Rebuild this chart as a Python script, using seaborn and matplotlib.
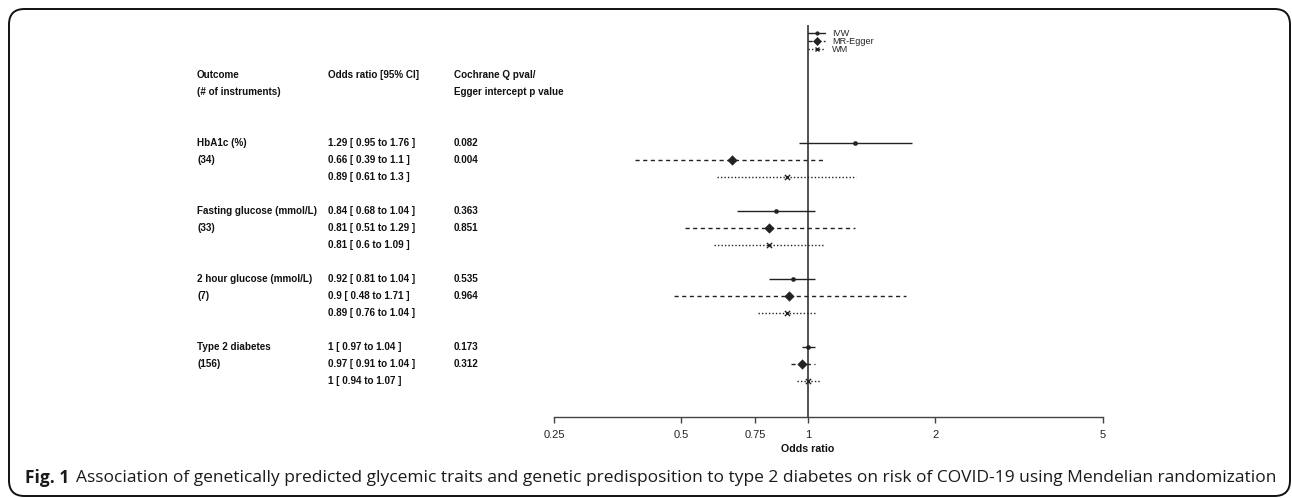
import numpy as np
import pandas as pd
import matplotlib
matplotlib.use("Agg")
import matplotlib.pyplot as plt
import seaborn as sns
from matplotlib.lines import Line2D
from matplotlib.patches import FancyBboxPatch
from matplotlib.transforms import blended_transform_factory

# --- data ---
outcomes = ["HbA1c (%)", "Fasting glucose (mmol/L)", "2 hour glucose (mmol/L)", "Type 2 diabetes"]
n_instruments = ["(34)", "(33)", "(7)", "(156)"]
methods = ["IVW", "MR-Egger", "WM"]

or_est = [1.29, 0.66, 0.89,
          0.84, 0.81, 0.81,
          0.92, 0.90, 0.89,
          1.00, 0.97, 1.00]
or_lo = [0.95, 0.39, 0.61,
         0.68, 0.51, 0.60,
         0.81, 0.48, 0.76,
         0.97, 0.91, 0.94]
or_hi = [1.76, 1.10, 1.30,
         1.04, 1.29, 1.09,
         1.04, 1.71, 1.04,
         1.04, 1.04, 1.07]
or_text = ["1.29 [ 0.95 to 1.76 ]", "0.66 [ 0.39 to 1.1 ]", "0.89 [ 0.61 to 1.3 ]",
           "0.84 [ 0.68 to 1.04 ]", "0.81 [ 0.51 to 1.29 ]", "0.81 [ 0.6 to 1.09 ]",
           "0.92 [ 0.81 to 1.04 ]", "0.9 [ 0.48 to 1.71 ]", "0.89 [ 0.76 to 1.04 ]",
           "1 [ 0.97 to 1.04 ]", "0.97 [ 0.91 to 1.04 ]", "1 [ 0.94 to 1.07 ]"]
pval_text = ["0.082", "0.004", "",
             "0.363", "0.851", "",
             "0.535", "0.964", "",
             "0.173", "0.312", ""]

x_ticks = [0.25, 0.5, 0.75, 1, 2, 5]
x_ticklabels = ["0.25", "0.5", "0.75", "1", "2", "5"]

caption_bold = "Fig. 1"
caption = ("Association of genetically predicted glycemic traits and genetic predisposition "
           "to type 2 diabetes on risk of COVID-19 using Mendelian randomization")

# long table, one row per outcome x method; groups separated by a blank row
df = pd.DataFrame({
    "outcome": np.repeat(outcomes, 3),
    "method": methods * len(outcomes),
    "est": or_est, "lo": or_lo, "hi": or_hi,
})
df["row"] = [g * 4 + m for g in range(len(outcomes)) for m in range(3)]

sns.set_style("white")
plt.rcParams["font.family"] = ["Liberation Sans", "DejaVu Sans"]

W, H = 1292, 498
fig = plt.figure(figsize=(W / 100, H / 100), dpi=100)

# forest panel: x 0.25 -> 5 spans px 554..1103, panel top at 25 px, axis at 417 px
ax = fig.add_axes([554 / W, 1 - 417 / H, (1103 - 554) / W, (417 - 25) / H])
row0_px, row_px = 143, 17
ax.set_ylim((417 - row0_px) / row_px, (25 - row0_px) / row_px)

ink = "#222222"
styles = {"IVW": "-", "MR-Egger": (0, (3, 2.5)), "WM": (0, (1, 1.5))}
markers = {"IVW": "o", "MR-Egger": "D", "WM": "x"}
sizes = {"IVW": 9, "MR-Egger": 24, "WM": 14}

for m in methods:
    sub = df[df["method"] == m]
    ax.hlines(sub["row"], sub["lo"], sub["hi"], color=ink, lw=1.0,
              linestyles=[styles[m]] * len(sub))

for m in methods:
    sub = df[df["method"] == m]
    sns.scatterplot(data=sub, x="est", y="row", marker=markers[m], s=sizes[m],
                    color=ink, edgecolor=ink, linewidth=1.0 if m == "WM" else 0.3,
                    ax=ax, legend=False, zorder=3)

ax.axvline(1, color=ink, lw=1.1, zorder=1)

ax.set_xscale("log")
ax.set_xlim(0.25, 5)
ax.set_xticks(x_ticks)
ax.set_xticklabels(x_ticklabels)
ax.minorticks_off()
ax.tick_params(axis="x", direction="out", length=4, width=1, color="#444444",
               labelsize=8, labelcolor="#222222", pad=5, bottom=True)
ax.set_yticks([])
ax.set_xlabel("")
ax.set_ylabel("")
for side in ["top", "right", "left"]:
    ax.spines[side].set_visible(False)
ax.spines["bottom"].set_color("#444444")
ax.spines["bottom"].set_linewidth(1)
ax.patch.set_alpha(0)

fig.text(808 / W, 1 - 449 / H, "Odds ratio", ha="center", va="center",
         fontsize=7.7, fontweight="bold", color="#111111")

# table columns on the left
tr = blended_transform_factory(fig.transFigure, ax.transData)
col_x = [197 / W, 328 / W, 454 / W]
tkw = dict(transform=tr, fontsize=7.1, fontweight="bold", va="center", ha="left",
           color="#111111", clip_on=False)
ax.text(col_x[0], -4, "Outcome", **tkw)
ax.text(col_x[0], -3, "(# of instruments)", **tkw)
ax.text(col_x[1], -4, "Odds ratio [95% CI]", **tkw)
ax.text(col_x[2], -4, "Cochrane Q pval/", **tkw)
ax.text(col_x[2], -3, "Egger intercept p value", **tkw)
for g in range(len(outcomes)):
    ax.text(col_x[0], g * 4, outcomes[g], **tkw)
    ax.text(col_x[0], g * 4 + 1, n_instruments[g], **tkw)
for i, r in enumerate(df["row"]):
    ax.text(col_x[1], r, or_text[i], **tkw)
    if pval_text[i]:
        ax.text(col_x[2], r, pval_text[i], **tkw)

# legend right of the null line
handles = [Line2D([], [], color=ink, lw=1, linestyle=styles[m], marker=markers[m],
                  markeredgewidth=1.0 if m == "WM" else 0.5,
                  markersize={"IVW": 2.5, "MR-Egger": 4.2, "WM": 3.2}[m]) for m in methods]
fig.legend(handles, methods, loc="upper left", bbox_to_anchor=(808 / W, 1 - 29 / H),
           frameon=False, fontsize=6.6, handlelength=1.9, handletextpad=0.7,
           labelspacing=-0.12, borderpad=0, borderaxespad=0)

# rounded border and caption
fig.patches.append(FancyBboxPatch((9 / W, 2 / H), (1290 - 9) / W, (489 - 2) / H,
                                  boxstyle="round,pad=0,rounding_size=0.012",
                                  transform=fig.transFigure, fill=False,
                                  ec="#111111", lw=1.4, mutation_aspect=W / H))

cap_fs = 11
cap_family = ["Open Sans", "DejaVu Sans"]
renderer = fig.canvas.get_renderer()
t1 = fig.text(25 / W, 1 - 478 / H, caption_bold, ha="left", va="center",
              fontsize=cap_fs, fontweight="bold", family=cap_family, color="#1a1a1a")
bb = t1.get_window_extent(renderer)
t2 = fig.text((bb.x1 + 6) / W, 1 - 478 / H, caption, ha="left", va="center",
              fontsize=cap_fs, family=cap_family, color="#1a1a1a")
# stretch caption so it ends where the reference one ends (~1275 px)
bb2 = t2.get_window_extent(renderer)
scale = (1275 - 25) / (bb2.x1 - 25)
t1.set_fontsize(cap_fs * scale)
bb = t1.get_window_extent(renderer)
t2.set_fontsize(cap_fs * scale)
t2.set_x((bb.x1 + 6 * scale) / W)

fig.savefig("out.png", dpi=100)
